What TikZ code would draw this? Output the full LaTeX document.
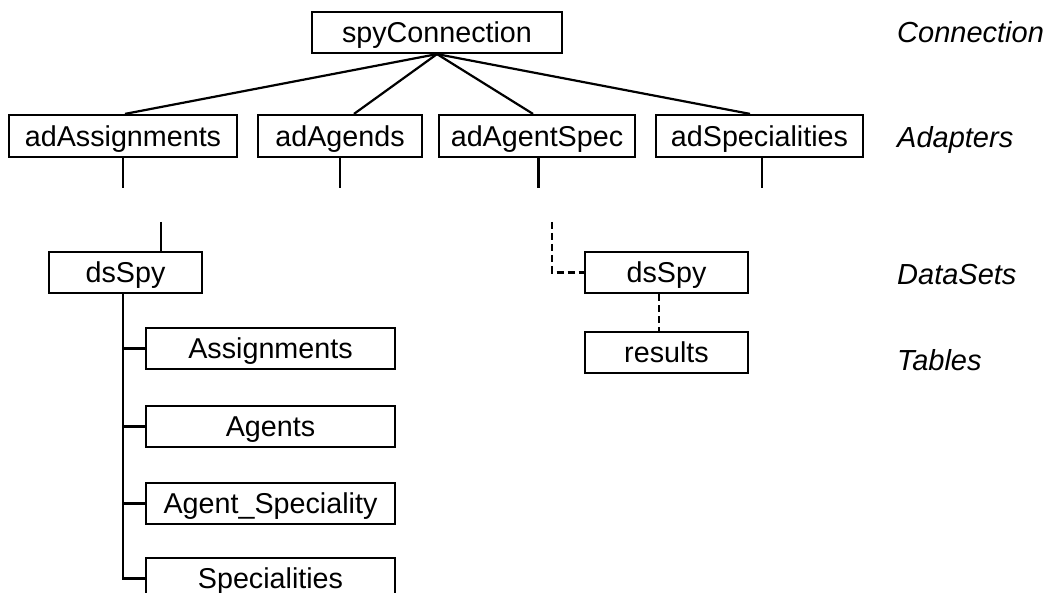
\documentclass[tikz,border=0pt]{standalone}
\usepackage{fontspec}
\setmainfont{Liberation Sans}
\usetikzlibrary{calc}
\begin{document}
\begin{tikzpicture}[x=1pt,y=-1pt,
  box/.style={draw, line width=2.2pt, inner sep=0pt, font=\fontsize{28.7}{34}\selectfont, minimum height=41pt, text height=20.6pt, text depth=0pt},
  conline/.style={line width=2.2pt},
  dashline/.style={line width=2.2pt, dash pattern=on 7pt off 4pt},
  tier/.style={anchor=base west, inner sep=0pt, font=\fontsize{29}{34}\selectfont\itshape}]
\useasboundingbox (0,0) rectangle (1044,593);
% nodes
\node[box, minimum width=250pt] (conn) at (437,32.5) {spyConnection};
\node[box, minimum width=228pt, minimum height=42pt] (adA) at (123,136) {adAssignments};
\node[box, minimum width=164pt, minimum height=42pt] (adAg) at (340,136) {adAgends};
\node[box, minimum width=196pt, minimum height=42pt] (adAS) at (537,136) {adAgentSpec};
\node[box, minimum width=207pt, minimum height=42pt] (adSp) at (759.5,136) {adSpecialities};
\node[box, minimum width=153pt] (ds1) at (125.5,272.5) {dsSpy};
\node[box, minimum width=249pt] (t1) at (270.5,348.5) {Assignments};
\node[box, minimum width=249pt] (t2) at (270.5,426.5) {Agents};
\node[box, minimum width=249pt] (t3) at (270.5,503.5) {Agent\_Speciality};
\node[box, minimum width=249pt] (t4) at (270.5,578.5) {Specialities};
\node[box, minimum width=163pt] (ds2) at (666.5,272.5) {dsSpy};
\node[box, minimum width=163pt] (res) at (666.5,352.5) {results};
% tier labels
\node[tier] (lconn) at (897,43) {Connection};
\node[tier] (ladap) at (897,148) {Adapters};
\node[tier] (lds) at (897,285) {DataSets};
\node[tier] (ltab) at (897,371) {Tables};
% connection to adapters
\draw[conline] (conn.south) -- ([xshift=2pt]adA.north);
\draw[conline] (conn.south) -- ([xshift=14pt]adAg.north);
\draw[conline] (conn.south) -- ([xshift=-4pt]adAS.north);
\draw[conline] (conn.south) -- ([xshift=-9.5pt]adSp.north);
% adapter stubs
\coordinate (e1) at (123,188);
\coordinate (e2) at (340,188);
\coordinate (e3) at (538.5,188);
\coordinate (e4) at (762,188);
\draw[conline] (adA.south -| e1) -- (e1);
\draw[conline] (adAg.south -| e2) -- (e2);
\draw[conline] (adAS.south -| e3) -- (e3);
\draw[conline] (adSp.south -| e4) -- (e4);
% left dataset
\coordinate (s1top) at (161,222);
\draw[conline] (s1top) -- (s1top |- ds1.north);
\coordinate (tk) at (123,0);
\draw[conline] (ds1.south -| tk) |- (t4.west);
\draw[conline] (t1.west) -- (t1.west -| tk);
\draw[conline] (t2.west) -- (t2.west -| tk);
\draw[conline] (t3.west) -- (t3.west -| tk);
% right dataset
\coordinate (dtop) at (552,222);
\draw[dashline] (dtop) |- (ds2.west);
\coordinate (dx) at (659,0);
\draw[dashline] (ds2.south -| dx) -- (res.north -| dx);
\end{tikzpicture}
\end{document}
